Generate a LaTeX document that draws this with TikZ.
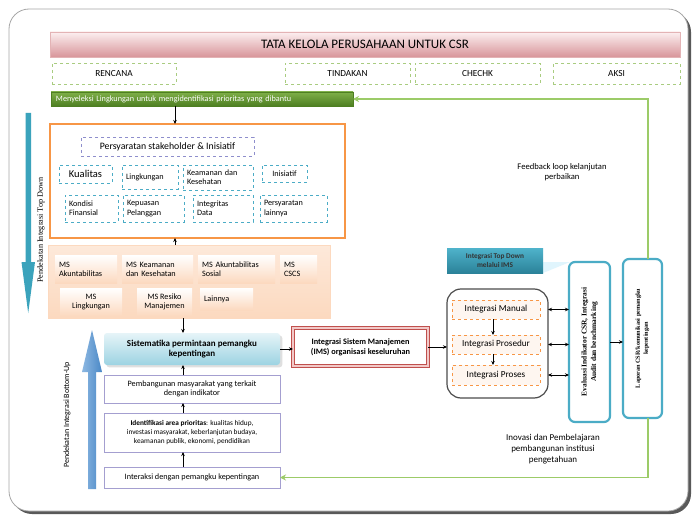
\documentclass[tikz,border=0pt]{standalone}
\usepackage{fontspec}
\setmainfont{Carlito}
\newfontfamily\serifb{Liberation Serif}
\usetikzlibrary{arrows.meta,shadows}
\definecolor{titletop}{HTML}{FCEFF0}
\definecolor{titlebot}{HTML}{D8959A}
\definecolor{titleline}{HTML}{E3B3B5}
\definecolor{dgreen}{HTML}{A9CC80}
\definecolor{gbartop}{HTML}{7FAF48}
\definecolor{gbarbot}{HTML}{4E7F22}
\definecolor{gline}{HTML}{9CCB68}
\definecolor{orng}{HTML}{F79646}
\definecolor{lblue}{HTML}{4BACC6}
\definecolor{lav}{HTML}{8E8ECC}
\definecolor{peach}{HTML}{FCD9BF}
\definecolor{peachlt}{HTML}{FDE9DA}
\definecolor{cyantop}{HTML}{E6F4F8}
\definecolor{cyanbot}{HTML}{9CD3E2}
\definecolor{purp}{HTML}{A49FD0}
\definecolor{imsred}{HTML}{C0504D}
\definecolor{imspink}{HTML}{F2C9C8}
\definecolor{tealtop}{HTML}{4FB3CB}
\definecolor{tealbot}{HTML}{2B8299}
\definecolor{tdarrow}{HTML}{3BA3BC}
\definecolor{buarrow}{HTML}{4A88C6}
\definecolor{buarrowlt}{HTML}{8DB8E2}
\begin{document}
\begin{tikzpicture}[x=1pt,y=-1pt,
  font=\fontsize{8.2}{9.2}\selectfont,
  >={Stealth[length=4pt,width=3.5pt]},
  base/.style={anchor=north west, inner sep=1pt, outer sep=0pt, align=center},
  dgbox/.style={base, draw=dgreen, dashed, line width=0.6, font=\fontsize{9.3}{10}\selectfont},
  dbbox/.style={base, draw=lblue, dashed, line width=0.6, fill=white},
  lft/.style={align=left, inner xsep=4pt},
  msbox/.style={base, top color=white, bottom color=peach, draw=none},
  pbox/.style={base, draw=purp, line width=0.8, fill=white},
  obox/.style={base, draw=orng, dashed, line width=0.6, fill=peachlt!40, font=\fontsize{9.2}{10}\selectfont},
  cbox/.style={base, draw=lblue, line width=2.2, rounded corners=6, fill=white},
  conn/.style={->, black, line width=0.7},
  dconn/.style={<->, black, line width=0.7},
  gconn/.style={->, gline, line width=1.8, >={Stealth[length=6pt,width=6pt]}},
]
\useasboundingbox (0,0) rectangle (694,516);
% frame
\fill[black!65, rounded corners=20] (12,12) rectangle (691,514);
\draw[black!35, fill=white, line width=0.8, rounded corners=20] (9,9) rectangle (688,511);

% title
\node[base, top color=titletop, bottom color=titlebot, draw=titleline, line width=0.6,
  minimum width=630, minimum height=25, font=\fontsize{13}{14}\selectfont] (title) at (50,32)
  {TATA KELOLA PERUSAHAAN UNTUK CSR};
\node[dgbox, minimum width=124, minimum height=21] (rencana) at (52,63) {RENCANA};
\node[dgbox, minimum width=125, minimum height=21] (tindakan) at (285,63) {TINDAKAN};
\node[dgbox, minimum width=125, minimum height=21] (chechk) at (415,63) {CHECHK};
\node[dgbox, minimum width=127, minimum height=21] (aksi) at (553,63) {AKSI};

% green bar
\node[base, top color=gbartop, bottom color=gbarbot, draw=gbarbot, line width=0.6,
  minimum width=302, minimum height=14, text=white, font=\fontsize{8.2}{9}\selectfont,
  align=left, inner xsep=5pt, text width=292] (gbar) at (51,92)
  {Menyeleksi Lingkungan untuk mengidentifikasi prioritas yang dibantu};

% orange box
\node[base, draw=orng, line width=2.6, fill=white, minimum width=295, minimum height=114] (ob) at (50,124) {};
\node[base, draw=lav, dashed, line width=0.6, minimum width=173, minimum height=19,
  font=\fontsize{9.8}{10}\selectfont] (pers) at (81,137) {Persyaratan stakeholder \& Inisiatif};
\node[dbbox, minimum width=53, minimum height=18, font=\fontsize{10.5}{11}\selectfont] (kual) at (59,165) {Kualitas};
\node[dbbox, lft, minimum width=56, minimum height=24, text width=48] (ling) at (122,165) {Lingkungan\\[5pt]};
\node[dbbox, lft, minimum width=70, minimum height=25, text width=62] (keam) at (183,165) {Keamanan dan\\Kesehatan};
\node[dbbox, minimum width=45, minimum height=17] (inis) at (262,165) {Inisiatif};
\node[dbbox, lft, minimum width=53, minimum height=27, text width=45] (kond) at (65,195) {Kondisi\\Finansial};
\node[dbbox, lft, minimum width=61, minimum height=27, text width=53] (kepu) at (123,195) {Kepuasan\\Pelanggan};
\node[dbbox, lft, minimum width=60, minimum height=27, text width=52] (integ) at (193,195) {Integritas\\Data};
\node[dbbox, lft, minimum width=67, minimum height=27, text width=59] (persl) at (260,195) {Persyaratan\\lainnya};

% MS box
\node[base, top color=peachlt, bottom color=peach, draw=peach, minimum width=282, minimum height=73] (ms) at (48,245) {};
\node[msbox, lft, minimum width=62, minimum height=28, text width=54] (msa) at (55,255) {MS\\Akuntabilitas};
\node[msbox, lft, minimum width=71, minimum height=28, text width=63] (msk) at (122,255) {MS Keamanan\\dan Kesehatan};
\node[msbox, lft, minimum width=77, minimum height=28, text width=69] (mss) at (198,255) {MS Akuntabilitas\\Sosial};
\node[msbox, lft, minimum width=37, minimum height=28, text width=29] (msc) at (280,255) {MS\\CSCS};
\node[msbox, minimum width=62, minimum height=28] (msl) at (60,288) {MS\\Lingkungan};
\node[msbox, minimum width=55, minimum height=28] (msr) at (137,288) {MS Resiko\\Manajemen};
\node[msbox, lft, minimum width=53, minimum height=22, text width=45] (lain) at (200,288) {Lainnya\\[4pt]};

% bottom-up column
\node[base, top color=cyantop, bottom color=cyanbot, rounded corners=3, minimum width=176, minimum height=32,
  font=\bfseries\fontsize{9}{10.5}\selectfont, drop shadow={opacity=0.25}] (sist) at (104,333)
  {Sistematika permintaan pemangku\\kepentingan};
\node[pbox, minimum width=176, minimum height=28] (pemb) at (104,375)
  {Pembangunan masyarakat yang terkait\\dengan indikator};
\node[pbox, minimum width=176, minimum height=39, font=\fontsize{7.3}{8.6}\selectfont] (iden) at (104,413)
  {\textbf{Identifikasi area prioritas}: kualitas hidup,\\investasi masyarakat, keberlanjutan budaya,\\keamanan publik, ekonomi, pendidikan};
\node[pbox, minimum width=176, minimum height=21] (inter) at (104,467)
  {Interaksi dengan pemangku kepentingan};

% IMS
\node[base, draw=imsred, double=imspink, double distance=2.2, line width=1.3, fill=white,
  minimum width=135, minimum height=38, font=\bfseries\fontsize{8.3}{10}\selectfont] (ims) at (293,328)
  {Integrasi Sistem Manajemen\\(IMS) organisasi keseluruhan};

% top-down IMS label
\fill[cyan!12] (543,262) -- (543,273) -- (570,262) -- cycle;
\node[base, top color=tealtop, bottom color=tealbot, minimum width=96, minimum height=25,
  font=\bfseries\fontsize{7.3}{8.3}\selectfont, text=black!80] (tdims) at (447,248)
  {Integrasi Top Down\\melalui IMS};

% rounded integration box
\node[base, draw=black!70, line width=1.2, rounded corners=14, fill=white, minimum width=101, minimum height=109] (rb) at (447,289) {};
\node[obox, minimum width=88, minimum height=19] (man) at (452,300) {Integrasi Manual};
\node[obox, minimum width=88, minimum height=19] (pros) at (452,335) {Integrasi Prosedur};
\node[obox, minimum width=88, minimum height=20] (proses) at (452,365) {Integrasi Proses};

% evaluation and report
\node[cbox, minimum width=41, minimum height=160] (eval) at (569,262) {};
\node[rotate=90, align=center, font=\serifb\bfseries\fontsize{7.4}{9.5}\selectfont] (evalt) at (eval.center)
  {Evaluasi Indikator CSR, Integrasi\\Audit dan benchmarking};
\node[cbox, minimum width=39, minimum height=159] (lap) at (623,259) {};
\node[rotate=90, align=center, font=\serifb\bfseries\fontsize{6.2}{8}\selectfont] (lapt) at (lap.center)
  {Laporan CSR/komunikasi pemangku\\kepentingan};

% free texts
\node[align=center, font=\fontsize{8.6}{10}\selectfont] (fb) at (562,172) {Feedback loop kelanjutan\\perbaikan};
\node[align=center, font=\fontsize{9}{11}\selectfont] (inov) at (553,449) {Inovasi dan Pembelajaran\\pembangunan institusi\\pengetahuan};

% big side arrows
\fill[tdarrow] (25.5,113) -- (31,113) -- (31,262) -- (35,262) -- (28.2,313) -- (21.5,262) -- (25.5,262) -- cycle;
\node[rotate=90, font=\serifb\fontsize{8.2}{9}\selectfont] (tdlab) at (41,230) {Pendekatan Integrasi Top Down};
\shade[left color=buarrowlt, right color=buarrow] (88,489) -- (96,489) -- (96,372) -- (102,372) -- (92,330) -- (82,372) -- (88,372) -- cycle;
\node[rotate=90, font=\fontsize{8}{9}\selectfont] (bulab) at (67,415) {Pendekatan Integrasi Bottom-Up};

% helper coordinates
\coordinate (x175) at (175,0);
\coordinate (x183) at (183,0);
\coordinate (x493) at (493,0);
\coordinate (x648) at (648,0);

% connectors
\draw[conn] (gbar.south -| x175) -- (ob.north -| x175);
\draw[conn] (ms.north -| x175) -- (ob.south -| x175);
\draw[conn] (ms.south -| x183) -- (sist.north -| x183);
\draw[conn] (pemb.north -| x183) -- (sist.south -| x183);
\draw[conn] (iden.north -| x183) -- (pemb.south -| x183);
\draw[conn] (inter.north -| x183) -- (iden.south -| x183);
\draw[conn] (sist.east) -- (sist.east -| ims.west);
\draw[conn] (ims.east) -- (ims.east -| rb.west);
\draw[conn] (man.south -| x493) -- (pros.north -| x493);
\draw[conn] (pros.south -| x493) -- (proses.north -| x493);
\draw[dconn] (man.east -| rb.east) -- (man.east -| eval.west);
\draw[dconn] (pros.east -| rb.east) -- (pros.east -| eval.west);
\draw[dconn] (proses.east -| rb.east) -- (proses.east -| eval.west);
\draw[conn] (eval.east) -- (eval.east -| lap.west);
\draw[gconn] (lap.north -| x648) -- (x648 |- gbar.east) -- (gbar.east);
\draw[gconn] (lap.south -| x648) -- (x648 |- inter.east) -- (inter.east);
\end{tikzpicture}
\end{document}
